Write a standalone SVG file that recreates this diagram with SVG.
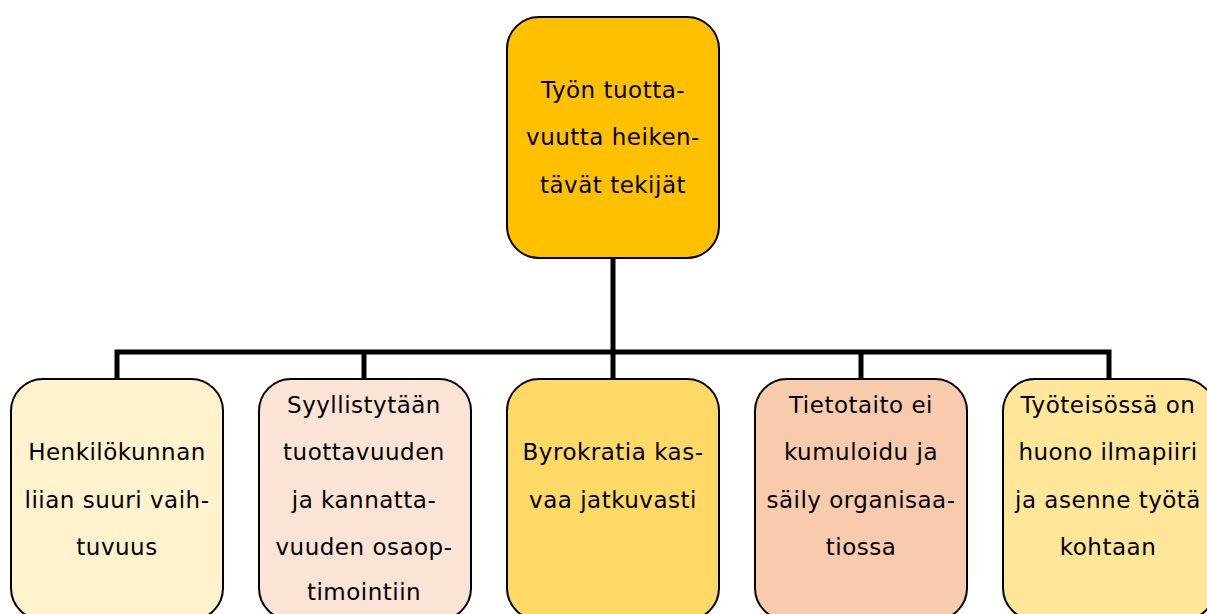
<svg xmlns="http://www.w3.org/2000/svg" width="1207" height="614" viewBox="0 0 1207 614">
<style>
.box{stroke:#000;stroke-width:2}
.t{font-family:"DejaVu Sans",sans-serif;font-size:23px;letter-spacing:0.5px;fill:#000;text-anchor:middle}
.c{fill:none;stroke:#000;stroke-width:5}
</style>
<rect width="1207" height="614" fill="#fff"/>
<g id="connectors">
<path class="c" d="M613 258V352M117 379V352H1109V379M364 352V379M613 352V379M861 352V379"/>
</g>
<g id="root">
<rect class="box" x="507" y="17" width="212" height="241" rx="32" fill="#FFC000"/>
<text class="t" x="613" y="98">Työn tuotta-</text>
<text class="t" x="613" y="145">vuutta heiken-</text>
<text class="t" x="613" y="193">tävät tekijät</text>
</g>
<g id="n1">
<rect class="box" x="11" y="379" width="212" height="241" rx="32" fill="#FFF2CC"/>
<text class="t" x="117" y="460">Henkilökunnan</text>
<text class="t" x="117" y="508">liian suuri vaih-</text>
<text class="t" x="117" y="555">tuvuus</text>
</g>
<g id="n2">
<rect class="box" x="259" y="379" width="212" height="241" rx="32" fill="#FBE4D5"/>
<text class="t" x="364" y="413">Syyllistytään</text>
<text class="t" x="364" y="460">tuottavuuden</text>
<text class="t" x="364" y="508">ja kannatta-</text>
<text class="t" x="364" y="555">vuuden osaop-</text>
<text class="t" x="364" y="600">timointiin</text>
</g>
<g id="n3">
<rect class="box" x="507" y="379" width="212" height="241" rx="32" fill="#FFD966"/>
<text class="t" x="613" y="460">Byrokratia kas-</text>
<text class="t" x="613" y="508">vaa jatkuvasti</text>
</g>
<g id="n4">
<rect class="box" x="755" y="379" width="212" height="241" rx="32" fill="#F8CBAD"/>
<text class="t" x="861" y="413">Tietotaito ei</text>
<text class="t" x="861" y="460">kumuloidu ja</text>
<text class="t" x="861" y="508">säily organisaa-</text>
<text class="t" x="861" y="555">tiossa</text>
</g>
<g id="n5">
<rect class="box" x="1003" y="379" width="212" height="241" rx="32" fill="#FFE699"/>
<text class="t" x="1108" y="413">Työteisössä on</text>
<text class="t" x="1108" y="460">huono ilmapiiri</text>
<text class="t" x="1108" y="508">ja asenne työtä</text>
<text class="t" x="1108" y="555">kohtaan</text>
</g>
</svg>
